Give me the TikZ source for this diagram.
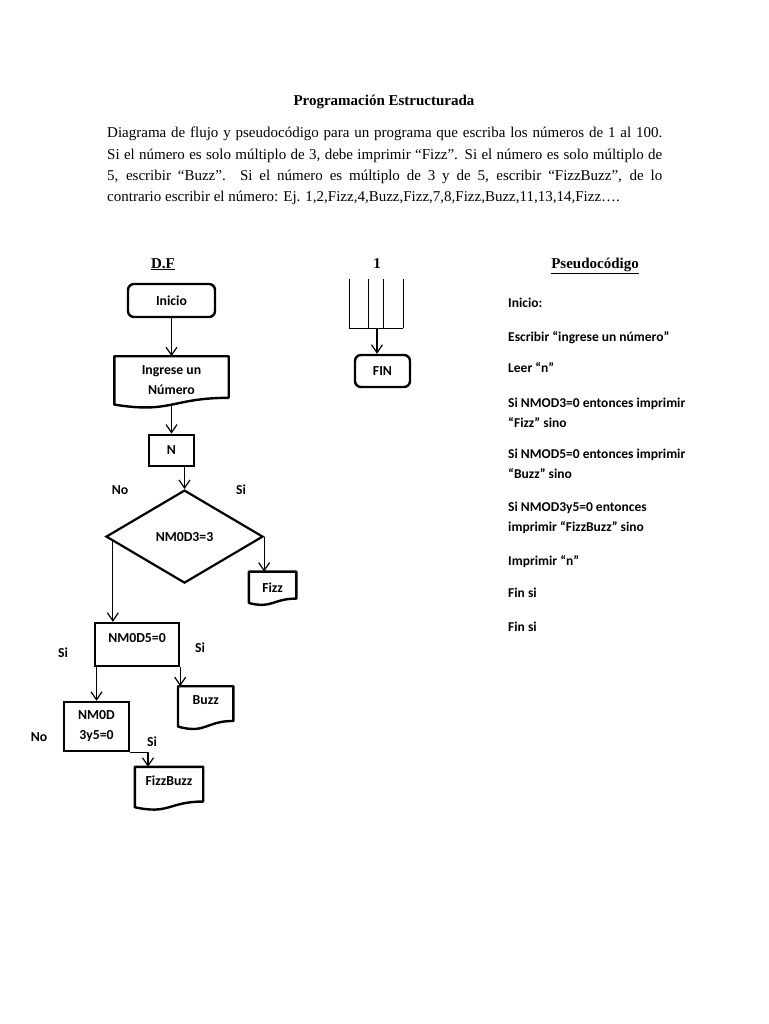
\documentclass[tikz,border=0pt]{standalone}
\usepackage{fontspec}
\setmainfont{Liberation Serif}
\newfontfamily\calfont{Carlito}
\usetikzlibrary{arrows.meta, positioning, shapes.geometric, calc}

% contorno de "documento" (borde inferior ondulado)
\newcommand{\docshape}[1]{%
  \draw[line width=2.4pt, line join=round] (#1.south west) -- (#1.north west) -- (#1.north east)
    -- ($(#1.south east)!0.14!(#1.north east)$)
    .. controls ($(#1.south)!0.14!(#1.north)$) and ($(#1.south)!-0.19!(#1.north)$) .. (#1.south west) -- cycle;}

\begin{document}
\begin{tikzpicture}[x=1pt, y=-1pt,
  node distance=30pt,
  box/.style={rectangle, draw, line width=2.4pt, inner sep=0pt, align=center,
              font=\calfont\bfseries\fontsize{13.75}{20}\selectfont},
  term/.style={box, rounded corners=6pt},
  docu/.style={rectangle, inner sep=0pt, align=center,
               font=\calfont\bfseries\fontsize{13.75}{20}\selectfont},
  cond/.style={diamond, draw, line width=2.2pt, inner sep=0pt,
               font=\calfont\bfseries\fontsize{13.75}{20}\selectfont},
  lbl/.style={inner sep=0pt, font=\calfont\bfseries\fontsize{13.75}{16}\selectfont},
  code/.style={anchor=base west, align=left, inner sep=0pt,
               font=\calfont\bfseries\fontsize{13.5}{19.5}\selectfont},
  head/.style={anchor=base, inner sep=0pt, font=\bfseries\fontsize{15}{18}\selectfont},
  arr/.style={-{Straight Barb[length=8pt, width=11pt]}, line width=1.2pt}]
  \fill[white] (0,0) rectangle (768,1024);
  \useasboundingbox (0,0) rectangle (768,1024);

  % encabezado
  \node[head] (titulo) at (384,106) {Programación Estructurada};
  \node[anchor=base west, text width=555pt, align=justify, inner sep=0pt,
        font=\fontsize{15}{21.3}\selectfont] (enunciado) at (107,138)
    {Diagrama de flujo y pseudocódigo para un programa que escriba los números de 1 al 100.\linebreak
     Si el número es solo múltiplo de 3, debe imprimir “Fizz”. Si el número es solo múltiplo de\linebreak
     5, escribir “Buzz”. Si el número es múltiplo de 3 y de 5, escribir “FizzBuzz”, de lo\linebreak
     contrario escribir el número: Ej. 1,2,Fizz,4,Buzz,Fizz,7,8,Fizz,Buzz,11,13,14,Fizz….};
  \node[head] (df) at (163,268) {\underline{D.F}};
  \node[head] (uno) at (377,268) {1};
  \node[head] (pseudo) at (595,268) {\underline{Pseudocódigo}};

  % diagrama de flujo
  \node[term, minimum width=87pt, minimum height=33pt] (inicio) at (171.5,300.5) {Inicio};
  \node[docu, minimum width=114pt, minimum height=48pt, below=38pt of inicio] (ingrese) {Ingrese un\\ Número};
  \node[box, minimum width=45pt, minimum height=31pt, below=29pt of ingrese] (n) {N};
  \node[cond, minimum width=157pt, minimum height=93pt, below=22pt of n, xshift=13pt] (nmod3) {NM0D3=3};
  \node[docu, minimum width=47pt, minimum height=31pt, below=35pt of nmod3.east, xshift=8.5pt] (fizz) {Fizz};
  \node[box, minimum width=84pt, minimum height=43pt, text height=9pt, text depth=13pt] (nmod5) at (137,644.5) {NM0D5=0};
  \node[docu, minimum width=55pt, minimum height=40pt, text height=9pt, text depth=12pt,
        below=19pt of nmod5.south east, xshift=25.5pt] (buzz) {Buzz};
  \node[box, minimum width=65pt, minimum height=49pt] (nmod35) at (96.5,726.5) {NM0D\\ 3y5=0};
  \node[docu, minimum width=68pt, minimum height=40pt, text height=9pt, text depth=12pt] (fizzbuzz) at (169,787) {FizzBuzz};
  \docshape{ingrese} \docshape{fizz} \docshape{buzz} \docshape{fizzbuzz}

  \node[lbl] (no1) at (120,490) {No};
  \node[lbl] (si1) at (241,490) {Si};
  \node[lbl] (si2) at (63,653) {Si};
  \node[lbl] (si3) at (200,648) {Si};
  \node[lbl] (no2) at (39,737) {No};
  \node[lbl] (si4) at (152,742) {Si};

  \draw[arr] (inicio) -- (ingrese);
  \draw[arr] (ingrese) -- (n);
  \draw[arr] (n.south -| nmod3.north) -- (nmod3.north);
  \draw[arr] (nmod3.east) -- (nmod3.east |- fizz.north);
  \coordinate (izq) at ($(nmod3.west)!0.1!(nmod3.south)$);
  \draw[arr] (izq) -- (izq |- nmod5.north);
  \draw[arr] (nmod5.south east) -- (nmod5.south east |- buzz.north);
  \draw[arr] (nmod5.south -| nmod35.north) -- (nmod35.north);
  \draw[arr] (nmod35.south east) -| ([xshift=-21pt]fizzbuzz.north);

  % conector 1
  \node[term, minimum width=55pt, minimum height=32pt] (fin) at (382.5,371) {FIN};
  \foreach \x in {349,368,383,403}
    \draw[line width=1pt] (\x,279) -- (\x,328);
  \draw[line width=1pt] (349,328) -- (403,328);
  \coordinate (union) at (377,328);
  \draw[arr] (union) -- (union |- fin.north);

  % pseudocodigo
  \node[code] (p1) at (508,307.5) {Inicio:};
  \node[code] (p2) at (508,341.5) {Escribir “ingrese un número”};
  \node[code] (p3) at (508,372.5) {Leer “n”};
  \node[code] (p4) at (508,427) {Si NMOD3=0 entonces imprimir\\ “Fizz” sino};
  \node[code] (p5) at (508,478) {Si NMOD5=0 entonces imprimir\\ “Buzz” sino};
  \node[code] (p6) at (508,531) {Si NMOD3y5=0 entonces\\ imprimir “FizzBuzz” sino};
  \node[code] (p7) at (508,565.5) {Imprimir “n”};
  \node[code] (p8) at (508,597.5) {Fin si};
  \node[code] (p9) at (508,631.5) {Fin si};
\end{tikzpicture}
\end{document}
